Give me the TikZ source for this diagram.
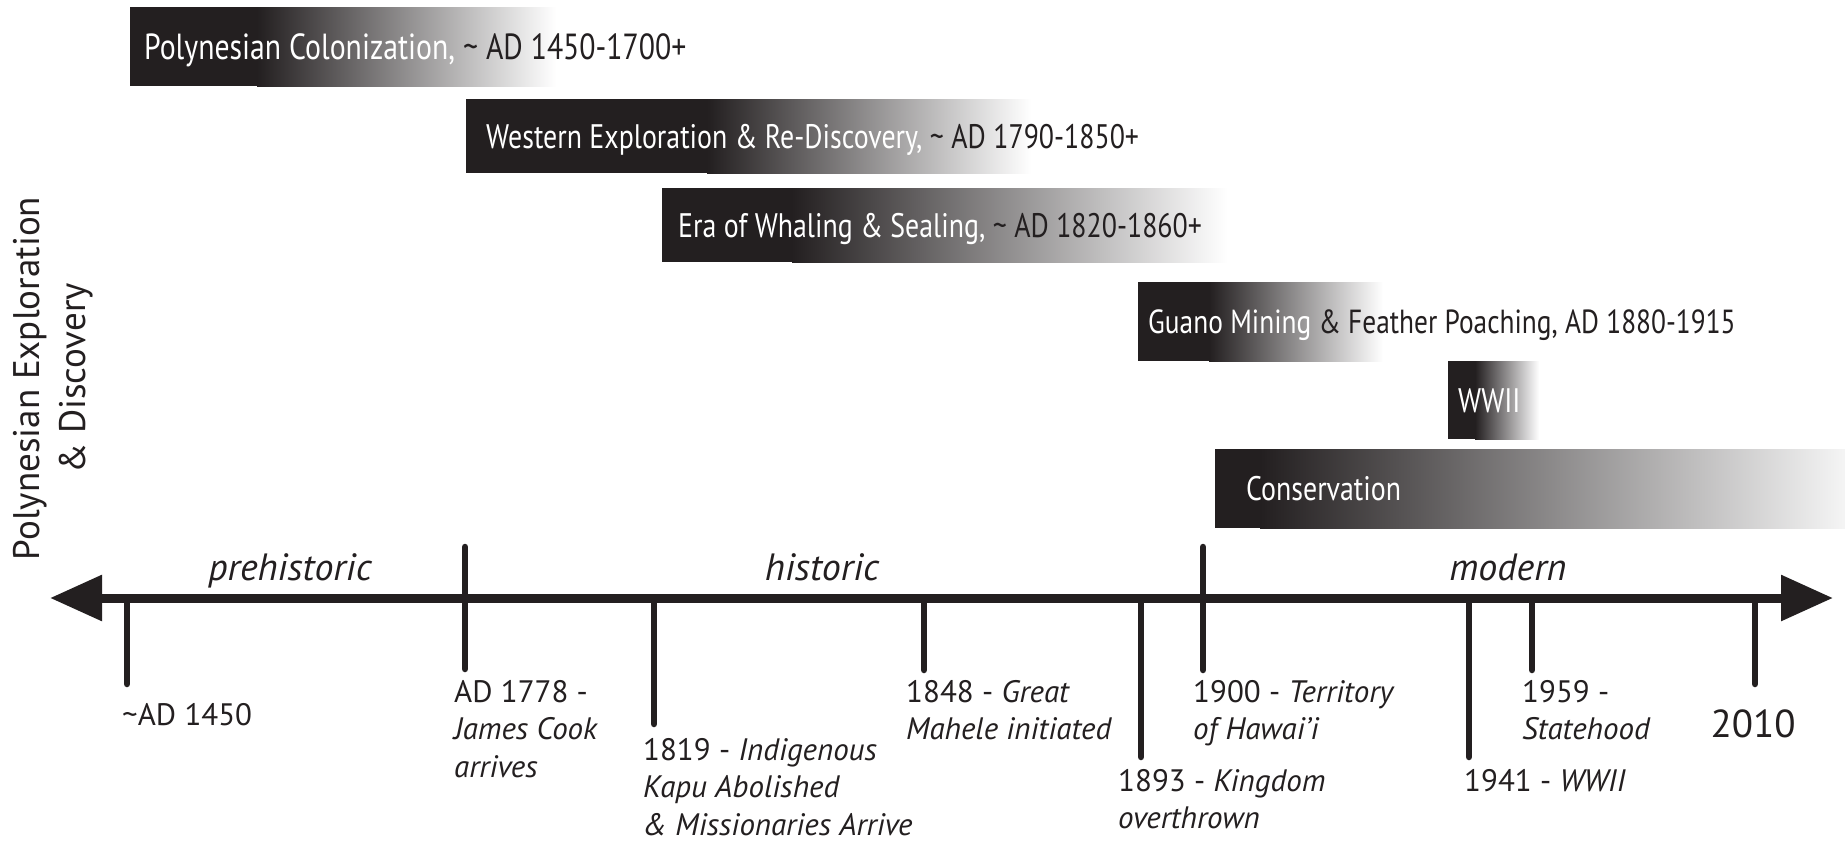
\documentclass[tikz,border=0pt]{standalone}
\usepackage{fontspec}
\setmainfont{PT Sans}
\newfontfamily\boxfont[FakeStretch=0.82]{PT Sans}
\usetikzlibrary{arrows.meta}
\definecolor{ink}{RGB}{35,31,32}
\newcommand\tlab[1]{\begin{tabular}[t]{@{}l@{}}#1\end{tabular}}
\tikzset{
  boxtext/.style={anchor=base west, inner sep=0pt, text=ink, font=\boxfont\fontsize{34}{34}\selectfont},
  labtext/.style={anchor=base west, inner sep=0pt, text=ink, font=\fontsize{31}{37.5}\selectfont},
  eratext/.style={anchor=base, inner sep=0pt, text=ink, font=\itshape\fontsize{38}{38}\selectfont},
  tickline/.style={draw=ink, line width=6.5pt, line cap=round},
  timeaxis/.style={draw=ink, line width=9pt, {Triangle[length=52pt,width=44pt]}-{Triangle[length=52pt,width=44pt]}},
  fadebox/.style={left color=ink, right color=white},
}
\begin{document}
\begin{tikzpicture}[x=1pt,y=-1pt]
\useasboundingbox (0,0) rectangle (1845,841);
\fill[white] (0,0) rectangle (1845,841);

% vertical title
\node[anchor=base, rotate=90, inner sep=0pt, text=ink, font=\fontsize{37}{46}\selectfont] (vtitle) at (39,378.5)
  {\begin{tabular}[t]{@{}c@{}}Polynesian Exploration\\\& Discovery\end{tabular}};

% period boxes
\fill[ink] (130,7) rectangle (258,86);
\shade[fadebox] (257,7) rectangle (556,86);
\node[boxtext, font=\boxfont\fontsize{36.3}{36}\selectfont] (poly) at (144,59) {{\color{white}Polynesian Colonization,} \textasciitilde{} AD 1450-1700+};

\fill[ink] (466,99) rectangle (708,173);
\shade[fadebox] (707,99) rectangle (1031,173);
\node[boxtext] (west) at (486,148) {{\color{white}Western Exploration \& Re-Discovery,} \textasciitilde{} AD 1790-1850+};

\fill[ink] (662,188) rectangle (793,262);
\shade[fadebox] (792,188) rectangle (1227,262);
\node[boxtext] (whale) at (678,237) {{\color{white}Era of Whaling \& Sealing,} \textasciitilde{} AD 1820-1860+};

\fill[ink] (1138,282) rectangle (1210,361);
\shade[fadebox] (1209,282) rectangle (1383,361);
\node[boxtext, font=\boxfont\fontsize{33.4}{34}\selectfont] (guano) at (1148,333) {{\color{white}Guano Mining} \& Feather Poaching, AD 1880-1915};

\fill[ink] (1448,361) rectangle (1476,439);
\shade[fadebox] (1475,361) rectangle (1539,439);
\node[boxtext, text=white] (wwii) at (1458,412) {WWII};

\fill[ink] (1215,449) rectangle (1261,528);
\shade[left color=ink, right color=black!4] (1260,449) rectangle (1845,528);
\node[boxtext, text=white] (cons) at (1246,500) {Conservation};

% era labels
\node[eratext] (prehist) at (290,580) {prehistoric};
\node[eratext] (hist) at (822,580) {historic};
\node[eratext] (modern) at (1508,580) {modern};

% axis
\coordinate (axL) at (50,598);
\coordinate (axR) at (1833,598);
\draw[timeaxis] (axL) -- (axR);

% ticks
\coordinate (t1450) at (127,598);
\coordinate (t1778) at (465,547);
\coordinate (t1819) at (654,598);
\coordinate (t1848) at (924,598);
\coordinate (t1893) at (1141,598);
\coordinate (t1900) at (1203,547);
\coordinate (t1941) at (1469,598);
\coordinate (t1959) at (1532,598);
\coordinate (t2010) at (1755,598);
\draw[tickline] (t1450) -- ++(0,86);
\draw[tickline] (t1778) -- ++(0,122);
\draw[tickline] (t1819) -- ++(0,126);
\draw[tickline] (t1848) -- ++(0,72);
\draw[tickline] (t1893) -- ++(0,159);
\draw[tickline] (t1900) -- ++(0,123);
\draw[tickline] (t1941) -- ++(0,159);
\draw[tickline] (t1959) -- ++(0,72);
\draw[tickline] (t2010) -- ++(0,86);

% tick labels
\node[labtext] (l1450) at (122,725) {\textasciitilde AD 1450};
\node[labtext] (l1778) at (454,702) {\tlab{AD 1778 -\\\textit{James Cook}\\\textit{arrives}}};
\node[labtext] (l1819) at (643,760) {\tlab{1819 - \textit{Indigenous}\\\textit{Kapu Abolished}\\\textit{\& Missionaries Arrive}}};
\node[labtext] (l1848) at (906,702) {\tlab{1848 - \textit{Great}\\\textit{Mahele initiated}}};
\node[labtext] (l1893) at (1118,791) {\tlab{1893 - \textit{Kingdom}\\\textit{overthrown}}};
\node[labtext] (l1900) at (1193,702) {\tlab{1900 - \textit{Territory}\\\textit{of Hawai’i}}};
\node[labtext] (l1941) at (1464,791) {1941 - \textit{WWII}};
\node[labtext] (l1959) at (1522,702) {\tlab{1959 -\\\textit{Statehood}}};
\node[anchor=base, inner sep=0pt, text=ink, font=\fontsize{39}{39}\selectfont] (l2010) at (1753,737) {2010};
\end{tikzpicture}
\end{document}
